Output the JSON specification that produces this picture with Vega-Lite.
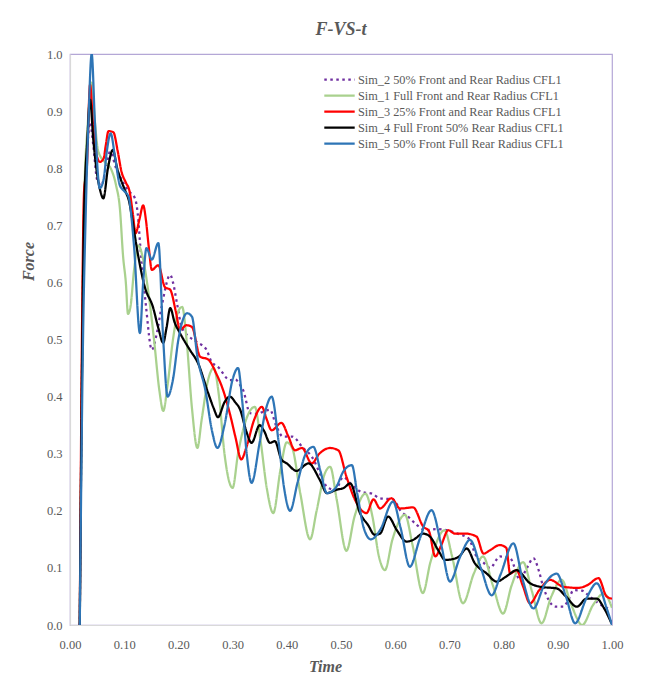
{
  "$schema": "https://vega.github.io/schema/vega-lite/v6.json",
  "width": 542,
  "height": 571,
  "autosize": {"type": "none"},
  "padding": {"left": 70, "top": 54, "right": 37, "bottom": 53},
  "background": "white",
  "config": {"view": {"stroke": "#B4A7D6", "strokeWidth": 1.2}, "font": "Liberation Serif"},
  "title": {"text": "F-VS-t", "font": "Liberation Serif", "fontSize": 18, "fontStyle": "italic", "fontWeight": "bold", "color": "#595959", "anchor": "middle", "offset": 9},
  "datasets": {
    "d": [
      {"s":"Sim_2","t":0.018,"f":0},{"s":"Sim_2","t":0.026,"f":0.72},{"s":"Sim_2","t":0.033,"f":0.85},{"s":"Sim_2","t":0.037,"f":0.88},{"s":"Sim_2","t":0.043,"f":0.84},{"s":"Sim_2","t":0.05,"f":0.78},{"s":"Sim_2","t":0.058,"f":0.77},{"s":"Sim_2","t":0.066,"f":0.8},{"s":"Sim_2","t":0.074,"f":0.829},{"s":"Sim_2","t":0.085,"f":0.8},{"s":"Sim_2","t":0.095,"f":0.78},{"s":"Sim_2","t":0.108,"f":0.76},{"s":"Sim_2","t":0.12,"f":0.747},{"s":"Sim_2","t":0.125,"f":0.72},{"s":"Sim_2","t":0.13,"f":0.66},{"s":"Sim_2","t":0.14,"f":0.56},{"s":"Sim_2","t":0.151,"f":0.482},{"s":"Sim_2","t":0.16,"f":0.51},{"s":"Sim_2","t":0.169,"f":0.557},{"s":"Sim_2","t":0.185,"f":0.613},{"s":"Sim_2","t":0.19,"f":0.6},{"s":"Sim_2","t":0.198,"f":0.56},{"s":"Sim_2","t":0.206,"f":0.522},{"s":"Sim_2","t":0.22,"f":0.505},{"s":"Sim_2","t":0.235,"f":0.495},{"s":"Sim_2","t":0.252,"f":0.482},{"s":"Sim_2","t":0.259,"f":0.465},{"s":"Sim_2","t":0.275,"f":0.45},{"s":"Sim_2","t":0.295,"f":0.429},{"s":"Sim_2","t":0.305,"f":0.43},{"s":"Sim_2","t":0.314,"f":0.42},{"s":"Sim_2","t":0.32,"f":0.41},{"s":"Sim_2","t":0.332,"f":0.371},{"s":"Sim_2","t":0.345,"f":0.37},{"s":"Sim_2","t":0.36,"f":0.375},{"s":"Sim_2","t":0.369,"f":0.377},{"s":"Sim_2","t":0.38,"f":0.35},{"s":"Sim_2","t":0.393,"f":0.33},{"s":"Sim_2","t":0.41,"f":0.33},{"s":"Sim_2","t":0.43,"f":0.31},{"s":"Sim_2","t":0.446,"f":0.295},{"s":"Sim_2","t":0.464,"f":0.26},{"s":"Sim_2","t":0.476,"f":0.24},{"s":"Sim_2","t":0.49,"f":0.237},{"s":"Sim_2","t":0.504,"f":0.259},{"s":"Sim_2","t":0.52,"f":0.245},{"s":"Sim_2","t":0.538,"f":0.233},{"s":"Sim_2","t":0.557,"f":0.23},{"s":"Sim_2","t":0.572,"f":0.222},{"s":"Sim_2","t":0.596,"f":0.22},{"s":"Sim_2","t":0.61,"f":0.2},{"s":"Sim_2","t":0.627,"f":0.187},{"s":"Sim_2","t":0.64,"f":0.175},{"s":"Sim_2","t":0.658,"f":0.166},{"s":"Sim_2","t":0.675,"f":0.168},{"s":"Sim_2","t":0.695,"f":0.166},{"s":"Sim_2","t":0.715,"f":0.16},{"s":"Sim_2","t":0.735,"f":0.152},{"s":"Sim_2","t":0.75,"f":0.12},{"s":"Sim_2","t":0.762,"f":0.11},{"s":"Sim_2","t":0.775,"f":0.1},{"s":"Sim_2","t":0.793,"f":0.12},{"s":"Sim_2","t":0.812,"f":0.117},{"s":"Sim_2","t":0.83,"f":0.08},{"s":"Sim_2","t":0.843,"f":0.1},{"s":"Sim_2","t":0.855,"f":0.117},{"s":"Sim_2","t":0.865,"f":0.095},{"s":"Sim_2","t":0.873,"f":0.067},{"s":"Sim_2","t":0.883,"f":0.044},{"s":"Sim_2","t":0.895,"f":0.032},{"s":"Sim_2","t":0.91,"f":0.032},{"s":"Sim_2","t":0.92,"f":0.045},{"s":"Sim_2","t":0.929,"f":0.061},{"s":"Sim_2","t":0.945,"f":0.06},{"s":"Sim_2","t":0.959,"f":0.05},{"s":"Sim_2","t":0.975,"f":0.038},{"s":"Sim_2","t":0.997,"f":0.027},
      {"s":"Sim_1","t":0.018,"f":0},{"s":"Sim_1","t":0.026,"f":0.74},{"s":"Sim_1","t":0.033,"f":0.88},{"s":"Sim_1","t":0.04,"f":0.95},{"s":"Sim_1","t":0.046,"f":0.88},{"s":"Sim_1","t":0.052,"f":0.83},{"s":"Sim_1","t":0.065,"f":0.81},{"s":"Sim_1","t":0.075,"f":0.8},{"s":"Sim_1","t":0.085,"f":0.77},{"s":"Sim_1","t":0.092,"f":0.73},{"s":"Sim_1","t":0.098,"f":0.645},{"s":"Sim_1","t":0.103,"f":0.6},{"s":"Sim_1","t":0.107,"f":0.545},{"s":"Sim_1","t":0.112,"f":0.56},{"s":"Sim_1","t":0.118,"f":0.62},{"s":"Sim_1","t":0.126,"f":0.665},{"s":"Sim_1","t":0.135,"f":0.64},{"s":"Sim_1","t":0.145,"f":0.58},{"s":"Sim_1","t":0.155,"f":0.5},{"s":"Sim_1","t":0.165,"f":0.41},{"s":"Sim_1","t":0.172,"f":0.375},{"s":"Sim_1","t":0.18,"f":0.42},{"s":"Sim_1","t":0.19,"f":0.5},{"s":"Sim_1","t":0.2,"f":0.55},{"s":"Sim_1","t":0.207,"f":0.557},{"s":"Sim_1","t":0.215,"f":0.5},{"s":"Sim_1","t":0.225,"f":0.38},{"s":"Sim_1","t":0.235,"f":0.31},{"s":"Sim_1","t":0.243,"f":0.36},{"s":"Sim_1","t":0.255,"f":0.43},{"s":"Sim_1","t":0.265,"f":0.45},{"s":"Sim_1","t":0.275,"f":0.4},{"s":"Sim_1","t":0.285,"f":0.3},{"s":"Sim_1","t":0.3,"f":0.24},{"s":"Sim_1","t":0.31,"f":0.3},{"s":"Sim_1","t":0.325,"f":0.36},{"s":"Sim_1","t":0.341,"f":0.382},{"s":"Sim_1","t":0.352,"f":0.32},{"s":"Sim_1","t":0.363,"f":0.24},{"s":"Sim_1","t":0.375,"f":0.196},{"s":"Sim_1","t":0.388,"f":0.27},{"s":"Sim_1","t":0.4,"f":0.32},{"s":"Sim_1","t":0.41,"f":0.31},{"s":"Sim_1","t":0.425,"f":0.23},{"s":"Sim_1","t":0.443,"f":0.15},{"s":"Sim_1","t":0.455,"f":0.2},{"s":"Sim_1","t":0.47,"f":0.265},{"s":"Sim_1","t":0.48,"f":0.277},{"s":"Sim_1","t":0.492,"f":0.22},{"s":"Sim_1","t":0.51,"f":0.13},{"s":"Sim_1","t":0.525,"f":0.19},{"s":"Sim_1","t":0.545,"f":0.23},{"s":"Sim_1","t":0.558,"f":0.19},{"s":"Sim_1","t":0.57,"f":0.12},{"s":"Sim_1","t":0.581,"f":0.096},{"s":"Sim_1","t":0.595,"f":0.15},{"s":"Sim_1","t":0.618,"f":0.193},{"s":"Sim_1","t":0.632,"f":0.14},{"s":"Sim_1","t":0.651,"f":0.056},{"s":"Sim_1","t":0.665,"f":0.11},{"s":"Sim_1","t":0.691,"f":0.166},{"s":"Sim_1","t":0.705,"f":0.12},{"s":"Sim_1","t":0.725,"f":0.038},{"s":"Sim_1","t":0.745,"f":0.09},{"s":"Sim_1","t":0.762,"f":0.12},{"s":"Sim_1","t":0.78,"f":0.07},{"s":"Sim_1","t":0.799,"f":0.02},{"s":"Sim_1","t":0.815,"f":0.07},{"s":"Sim_1","t":0.836,"f":0.11},{"s":"Sim_1","t":0.852,"f":0.06},{"s":"Sim_1","t":0.87,"f":0.003},{"s":"Sim_1","t":0.888,"f":0.05},{"s":"Sim_1","t":0.907,"f":0.079},{"s":"Sim_1","t":0.925,"f":0.035},{"s":"Sim_1","t":0.945,"f":0.0},{"s":"Sim_1","t":0.965,"f":0.035},{"s":"Sim_1","t":0.985,"f":0.055},{"s":"Sim_1","t":1.0,"f":0.03},
      {"s":"Sim_3","t":0.018,"f":0},{"s":"Sim_3","t":0.022,"f":0.5},{"s":"Sim_3","t":0.026,"f":0.76},{"s":"Sim_3","t":0.031,"f":0.8},{"s":"Sim_3","t":0.037,"f":0.946},{"s":"Sim_3","t":0.043,"f":0.87},{"s":"Sim_3","t":0.05,"f":0.82},{"s":"Sim_3","t":0.055,"f":0.811},{"s":"Sim_3","t":0.062,"f":0.817},{"s":"Sim_3","t":0.066,"f":0.84},{"s":"Sim_3","t":0.071,"f":0.865},{"s":"Sim_3","t":0.08,"f":0.863},{"s":"Sim_3","t":0.088,"f":0.83},{"s":"Sim_3","t":0.095,"f":0.794},{"s":"Sim_3","t":0.103,"f":0.775},{"s":"Sim_3","t":0.11,"f":0.759},{"s":"Sim_3","t":0.116,"f":0.72},{"s":"Sim_3","t":0.121,"f":0.686},{"s":"Sim_3","t":0.128,"f":0.71},{"s":"Sim_3","t":0.135,"f":0.735},{"s":"Sim_3","t":0.14,"f":0.71},{"s":"Sim_3","t":0.145,"f":0.665},{"s":"Sim_3","t":0.151,"f":0.622},{"s":"Sim_3","t":0.163,"f":0.63},{"s":"Sim_3","t":0.175,"f":0.592},{"s":"Sim_3","t":0.185,"f":0.587},{"s":"Sim_3","t":0.195,"f":0.55},{"s":"Sim_3","t":0.203,"f":0.517},{"s":"Sim_3","t":0.215,"f":0.525},{"s":"Sim_3","t":0.225,"f":0.522},{"s":"Sim_3","t":0.24,"f":0.47},{"s":"Sim_3","t":0.255,"f":0.465},{"s":"Sim_3","t":0.27,"f":0.44},{"s":"Sim_3","t":0.283,"f":0.41},{"s":"Sim_3","t":0.295,"f":0.37},{"s":"Sim_3","t":0.305,"f":0.33},{"s":"Sim_3","t":0.316,"f":0.29},{"s":"Sim_3","t":0.325,"f":0.31},{"s":"Sim_3","t":0.34,"f":0.36},{"s":"Sim_3","t":0.354,"f":0.382},{"s":"Sim_3","t":0.363,"f":0.36},{"s":"Sim_3","t":0.372,"f":0.341},{"s":"Sim_3","t":0.39,"f":0.354},{"s":"Sim_3","t":0.403,"f":0.33},{"s":"Sim_3","t":0.415,"f":0.306},{"s":"Sim_3","t":0.428,"f":0.31},{"s":"Sim_3","t":0.446,"f":0.283},{"s":"Sim_3","t":0.46,"f":0.3},{"s":"Sim_3","t":0.48,"f":0.31},{"s":"Sim_3","t":0.495,"f":0.306},{"s":"Sim_3","t":0.51,"f":0.26},{"s":"Sim_3","t":0.526,"f":0.219},{"s":"Sim_3","t":0.547,"f":0.196},{"s":"Sim_3","t":0.56,"f":0.22},{"s":"Sim_3","t":0.572,"f":0.204},{"s":"Sim_3","t":0.593,"f":0.222},{"s":"Sim_3","t":0.609,"f":0.204},{"s":"Sim_3","t":0.633,"f":0.206},{"s":"Sim_3","t":0.652,"f":0.172},{"s":"Sim_3","t":0.662,"f":0.165},{"s":"Sim_3","t":0.674,"f":0.12},{"s":"Sim_3","t":0.685,"f":0.14},{"s":"Sim_3","t":0.698,"f":0.166},{"s":"Sim_3","t":0.71,"f":0.16},{"s":"Sim_3","t":0.73,"f":0.16},{"s":"Sim_3","t":0.75,"f":0.155},{"s":"Sim_3","t":0.763,"f":0.125},{"s":"Sim_3","t":0.775,"f":0.131},{"s":"Sim_3","t":0.793,"f":0.14},{"s":"Sim_3","t":0.805,"f":0.135},{"s":"Sim_3","t":0.812,"f":0.09},{"s":"Sim_3","t":0.824,"f":0.096},{"s":"Sim_3","t":0.835,"f":0.07},{"s":"Sim_3","t":0.849,"f":0.038},{"s":"Sim_3","t":0.865,"f":0.06},{"s":"Sim_3","t":0.886,"f":0.079},{"s":"Sim_3","t":0.91,"f":0.067},{"s":"Sim_3","t":0.938,"f":0.065},{"s":"Sim_3","t":0.955,"f":0.07},{"s":"Sim_3","t":0.975,"f":0.082},{"s":"Sim_3","t":0.99,"f":0.05},{"s":"Sim_3","t":1.0,"f":0.046},
      {"s":"Sim_4","t":0.018,"f":0},{"s":"Sim_4","t":0.026,"f":0.72},{"s":"Sim_4","t":0.032,"f":0.85},{"s":"Sim_4","t":0.037,"f":0.92},{"s":"Sim_4","t":0.043,"f":0.85},{"s":"Sim_4","t":0.05,"f":0.79},{"s":"Sim_4","t":0.056,"f":0.76},{"s":"Sim_4","t":0.0615,"f":0.747},{"s":"Sim_4","t":0.07,"f":0.8},{"s":"Sim_4","t":0.079,"f":0.832},{"s":"Sim_4","t":0.087,"f":0.8},{"s":"Sim_4","t":0.095,"f":0.777},{"s":"Sim_4","t":0.102,"f":0.76},{"s":"Sim_4","t":0.109,"f":0.742},{"s":"Sim_4","t":0.115,"f":0.71},{"s":"Sim_4","t":0.123,"f":0.662},{"s":"Sim_4","t":0.138,"f":0.592},{"s":"Sim_4","t":0.153,"f":0.557},{"s":"Sim_4","t":0.163,"f":0.52},{"s":"Sim_4","t":0.172,"f":0.494},{"s":"Sim_4","t":0.178,"f":0.52},{"s":"Sim_4","t":0.185,"f":0.555},{"s":"Sim_4","t":0.193,"f":0.53},{"s":"Sim_4","t":0.203,"f":0.511},{"s":"Sim_4","t":0.221,"f":0.482},{"s":"Sim_4","t":0.236,"f":0.459},{"s":"Sim_4","t":0.255,"f":0.406},{"s":"Sim_4","t":0.265,"f":0.38},{"s":"Sim_4","t":0.273,"f":0.364},{"s":"Sim_4","t":0.285,"f":0.39},{"s":"Sim_4","t":0.295,"f":0.4},{"s":"Sim_4","t":0.305,"f":0.39},{"s":"Sim_4","t":0.314,"f":0.377},{"s":"Sim_4","t":0.325,"f":0.34},{"s":"Sim_4","t":0.335,"f":0.319},{"s":"Sim_4","t":0.35,"f":0.35},{"s":"Sim_4","t":0.358,"f":0.34},{"s":"Sim_4","t":0.369,"f":0.319},{"s":"Sim_4","t":0.378,"f":0.322},{"s":"Sim_4","t":0.39,"f":0.29},{"s":"Sim_4","t":0.4,"f":0.283},{"s":"Sim_4","t":0.418,"f":0.27},{"s":"Sim_4","t":0.44,"f":0.283},{"s":"Sim_4","t":0.461,"f":0.254},{"s":"Sim_4","t":0.474,"f":0.231},{"s":"Sim_4","t":0.492,"f":0.237},{"s":"Sim_4","t":0.505,"f":0.24},{"s":"Sim_4","t":0.517,"f":0.248},{"s":"Sim_4","t":0.535,"f":0.196},{"s":"Sim_4","t":0.55,"f":0.175},{"s":"Sim_4","t":0.562,"f":0.158},{"s":"Sim_4","t":0.572,"f":0.16},{"s":"Sim_4","t":0.587,"f":0.19},{"s":"Sim_4","t":0.603,"f":0.166},{"s":"Sim_4","t":0.621,"f":0.146},{"s":"Sim_4","t":0.633,"f":0.149},{"s":"Sim_4","t":0.652,"f":0.16},{"s":"Sim_4","t":0.664,"f":0.155},{"s":"Sim_4","t":0.68,"f":0.13},{"s":"Sim_4","t":0.692,"f":0.114},{"s":"Sim_4","t":0.704,"f":0.115},{"s":"Sim_4","t":0.718,"f":0.12},{"s":"Sim_4","t":0.732,"f":0.134},{"s":"Sim_4","t":0.747,"f":0.108},{"s":"Sim_4","t":0.769,"f":0.09},{"s":"Sim_4","t":0.787,"f":0.076},{"s":"Sim_4","t":0.805,"f":0.085},{"s":"Sim_4","t":0.824,"f":0.096},{"s":"Sim_4","t":0.849,"f":0.073},{"s":"Sim_4","t":0.867,"f":0.067},{"s":"Sim_4","t":0.898,"f":0.064},{"s":"Sim_4","t":0.915,"f":0.05},{"s":"Sim_4","t":0.935,"f":0.032},{"s":"Sim_4","t":0.953,"f":0.046},{"s":"Sim_4","t":0.972,"f":0.046},{"s":"Sim_4","t":0.985,"f":0.03},{"s":"Sim_4","t":0.999,"f":0.003},
      {"s":"Sim_5","t":0.018,"f":0},{"s":"Sim_5","t":0.024,"f":0.5},{"s":"Sim_5","t":0.029,"f":0.72},{"s":"Sim_5","t":0.034,"f":0.88},{"s":"Sim_5","t":0.04,"f":1.0},{"s":"Sim_5","t":0.046,"f":0.88},{"s":"Sim_5","t":0.055,"f":0.765},{"s":"Sim_5","t":0.062,"f":0.78},{"s":"Sim_5","t":0.068,"f":0.83},{"s":"Sim_5","t":0.075,"f":0.861},{"s":"Sim_5","t":0.083,"f":0.82},{"s":"Sim_5","t":0.092,"f":0.77},{"s":"Sim_5","t":0.1,"f":0.76},{"s":"Sim_5","t":0.108,"f":0.75},{"s":"Sim_5","t":0.118,"f":0.665},{"s":"Sim_5","t":0.129,"f":0.511},{"s":"Sim_5","t":0.135,"f":0.6},{"s":"Sim_5","t":0.141,"f":0.66},{"s":"Sim_5","t":0.151,"f":0.64},{"s":"Sim_5","t":0.163,"f":0.669},{"s":"Sim_5","t":0.172,"f":0.5},{"s":"Sim_5","t":0.18,"f":0.4},{"s":"Sim_5","t":0.19,"f":0.43},{"s":"Sim_5","t":0.2,"f":0.5},{"s":"Sim_5","t":0.216,"f":0.546},{"s":"Sim_5","t":0.225,"f":0.54},{"s":"Sim_5","t":0.235,"f":0.47},{"s":"Sim_5","t":0.25,"f":0.41},{"s":"Sim_5","t":0.262,"f":0.34},{"s":"Sim_5","t":0.272,"f":0.31},{"s":"Sim_5","t":0.285,"f":0.35},{"s":"Sim_5","t":0.3,"f":0.43},{"s":"Sim_5","t":0.31,"f":0.45},{"s":"Sim_5","t":0.318,"f":0.39},{"s":"Sim_5","t":0.326,"f":0.3},{"s":"Sim_5","t":0.335,"f":0.249},{"s":"Sim_5","t":0.35,"f":0.32},{"s":"Sim_5","t":0.362,"f":0.38},{"s":"Sim_5","t":0.372,"f":0.4},{"s":"Sim_5","t":0.385,"f":0.32},{"s":"Sim_5","t":0.395,"f":0.24},{"s":"Sim_5","t":0.406,"f":0.2},{"s":"Sim_5","t":0.42,"f":0.25},{"s":"Sim_5","t":0.435,"f":0.3},{"s":"Sim_5","t":0.449,"f":0.312},{"s":"Sim_5","t":0.462,"f":0.27},{"s":"Sim_5","t":0.474,"f":0.231},{"s":"Sim_5","t":0.49,"f":0.24},{"s":"Sim_5","t":0.505,"f":0.27},{"s":"Sim_5","t":0.52,"f":0.28},{"s":"Sim_5","t":0.53,"f":0.23},{"s":"Sim_5","t":0.542,"f":0.17},{"s":"Sim_5","t":0.555,"f":0.15},{"s":"Sim_5","t":0.572,"f":0.166},{"s":"Sim_5","t":0.596,"f":0.216},{"s":"Sim_5","t":0.61,"f":0.17},{"s":"Sim_5","t":0.627,"f":0.102},{"s":"Sim_5","t":0.645,"f":0.15},{"s":"Sim_5","t":0.667,"f":0.201},{"s":"Sim_5","t":0.685,"f":0.14},{"s":"Sim_5","t":0.701,"f":0.076},{"s":"Sim_5","t":0.72,"f":0.12},{"s":"Sim_5","t":0.738,"f":0.149},{"s":"Sim_5","t":0.758,"f":0.1},{"s":"Sim_5","t":0.778,"f":0.052},{"s":"Sim_5","t":0.795,"f":0.09},{"s":"Sim_5","t":0.818,"f":0.143},{"s":"Sim_5","t":0.835,"f":0.08},{"s":"Sim_5","t":0.855,"f":0.029},{"s":"Sim_5","t":0.875,"f":0.07},{"s":"Sim_5","t":0.898,"f":0.09},{"s":"Sim_5","t":0.915,"f":0.05},{"s":"Sim_5","t":0.932,"f":0.003},{"s":"Sim_5","t":0.952,"f":0.045},{"s":"Sim_5","t":0.972,"f":0.073},{"s":"Sim_5","t":0.99,"f":0.03},{"s":"Sim_5","t":1.0,"f":0.0}
    ]
  },
  "data": {"name": "d"},
  "mark": {"type": "line", "interpolate": "monotone", "strokeWidth": 2.25, "clip": true},
  "encoding": {
    "x": {
      "field": "t", "type": "quantitative",
      "scale": {"domain": [0, 1], "nice": false, "zero": false},
      "axis": {"title": "Time", "values": [0, 0.1, 0.2, 0.3, 0.4, 0.5, 0.6, 0.7, 0.8, 0.9, 1], "format": ".2f", "grid": false, "ticks": false, "domainColor": "#D9D9D9", "domainWidth": 1.2, "labelFont": "Liberation Serif", "labelFontSize": 12.5, "labelColor": "#595959", "labelPadding": 13, "labelFlush": false, "labelOverlap": false, "titleFont": "Liberation Serif", "titleFontSize": 16, "titleFontStyle": "italic", "titleFontWeight": "bold", "titleColor": "#595959", "titleX": 255, "titleY": 46, "titleBaseline": "alphabetic", "titleAnchor": "middle"}
    },
    "y": {
      "field": "f", "type": "quantitative",
      "scale": {"domain": [0, 1], "nice": false},
      "axis": {"title": "Force", "values": [0, 0.1, 0.2, 0.3, 0.4, 0.5, 0.6, 0.7, 0.8, 0.9, 1], "format": ".1f", "grid": false, "ticks": false, "domainColor": "#D9D9D9", "domainWidth": 1.2, "labelFont": "Liberation Serif", "labelFontSize": 12.5, "labelColor": "#595959", "labelPadding": 8, "labelFlush": false, "labelOverlap": false, "titleFont": "Liberation Serif", "titleFontSize": 16, "titleFontStyle": "italic", "titleFontWeight": "bold", "titleColor": "#595959", "titleX": -42, "titleY": 207, "titleBaseline": "middle", "titleAnchor": "middle"}
    },
    "color": {
      "field": "s", "type": "nominal",
      "scale": {"domain": ["Sim_2", "Sim_1", "Sim_3", "Sim_4", "Sim_5"], "range": ["#7030A0", "#A9D18E", "#FF0000", "#000000", "#2E75B6"]},
      "legend": {"title": null, "orient": "none", "legendX": 260, "legendY": 16, "symbolType": "M-1.9,0H1.9", "symbolSize": 256, "symbolStrokeWidth": 2.25, "labelFont": "Liberation Serif", "labelFontSize": 12.3, "labelColor": "#595959", "labelLimit": 400, "labelOffset": 9, "rowPadding": 0, "labelExpr": "datum.label == 'Sim_2' ? 'Sim_2 50% Front and Rear Radius CFL1' : datum.label == 'Sim_1' ? 'Sim_1 Full Front and Rear Radius CFL1' : datum.label == 'Sim_3' ? 'Sim_3 25% Front and Rear Radius CFL1' : datum.label == 'Sim_4' ? 'Sim_4 Full Front 50% Rear Radius CFL1' : 'Sim_5 50% Front Full Rear Radius CFL1'"}
    },
    "strokeDash": {
      "field": "s", "type": "nominal",
      "scale": {"domain": ["Sim_2", "Sim_1", "Sim_3", "Sim_4", "Sim_5"], "range": [[2.5, 3.5], [1, 0], [1, 0], [1, 0], [1, 0]]},
      "legend": {"title": null, "orient": "none", "legendX": 260, "legendY": 16, "symbolType": "M-1.9,0H1.9", "symbolSize": 256, "symbolStrokeWidth": 2.25, "labelFont": "Liberation Serif", "labelFontSize": 12.3, "labelColor": "#595959", "labelLimit": 400, "labelOffset": 9, "rowPadding": 0, "labelExpr": "datum.label == 'Sim_2' ? 'Sim_2 50% Front and Rear Radius CFL1' : datum.label == 'Sim_1' ? 'Sim_1 Full Front and Rear Radius CFL1' : datum.label == 'Sim_3' ? 'Sim_3 25% Front and Rear Radius CFL1' : datum.label == 'Sim_4' ? 'Sim_4 Full Front 50% Rear Radius CFL1' : 'Sim_5 50% Front Full Rear Radius CFL1'"}
    }
  }
}
